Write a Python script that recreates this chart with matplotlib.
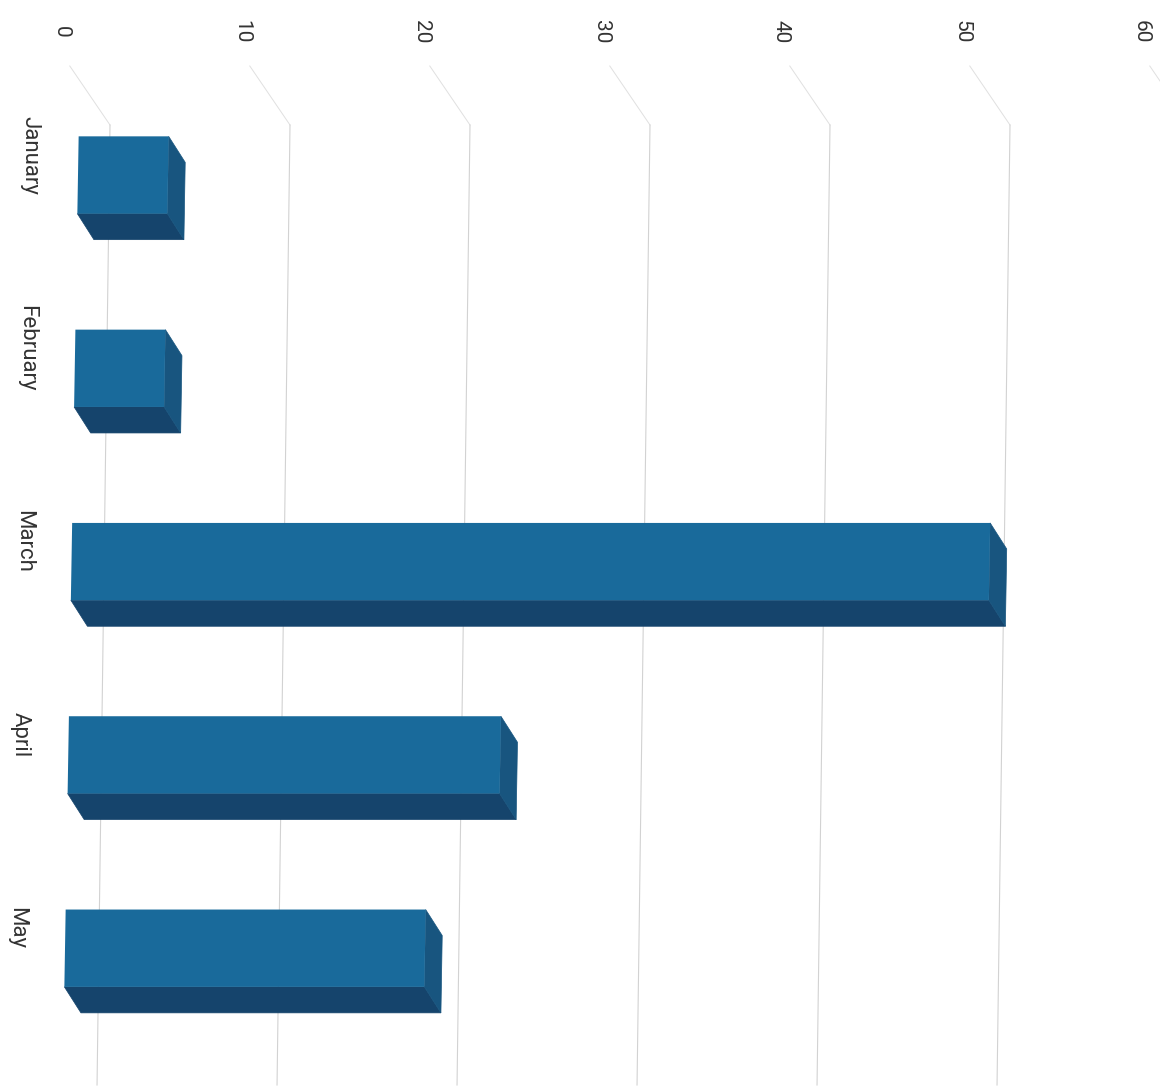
import numpy as np
import matplotlib.pyplot as plt
from matplotlib.patches import Polygon
from matplotlib.transforms import Affine2D

# donnees du graphique
mois = ["January", "February", "March", "April", "May"]
valeurs = [5, 5, 51, 24, 20]
graduations = [0, 10, 20, 30, 40, 50, 60]

# couleurs des faces
face_avant = "#196a9b"
face_cote = "#18557f"
face_dessous = "#15446c"

# mise en page en pixels (image 1160x1090)
W, H = 1160, 1090
px_par_unite = 18.0
x0_px = 71.5        # position du zero sur la face avant (milieu de l'image)
y0_px = 175         # centre de la premiere barre
pas_px = 193.3      # distance entre deux barres
y_milieu = 562      # ligne de reference pour l'inclinaison du scan
k = 0.0168          # inclinaison des barres (le scan est un peu de travers)
k_grille = 0.0135   # inclinaison du quadrillage

fig = plt.figure(figsize=(W / 100, H / 100), dpi=100)
ax = fig.add_axes([0, 0, 1, 1])
ax.set_xlim(-x0_px / px_par_unite, (W - x0_px) / px_par_unite)
ax.set_ylim((H - y0_px) / pas_px, -y0_px / pas_px)
ax.axis("off")

# cisaillement en pixels : x' = x - k*(y_px - y_milieu)
incline = Affine2D([[1, k, -k * (H - y_milieu)], [0, 1, 0], [0, 0, 1]])
tr = ax.transData + incline
incline_g = Affine2D([[1, k_grille, -k_grille * (H - y_milieu)], [0, 1, 0], [0, 0, 1]])
tr_g = ax.transData + incline_g

# profondeur 3D en unites de donnees
dx = 17 / px_par_unite
dy = 26 / pas_px
epaisseur = 0.4

# quadrillage du fond
decal_fond = 32.6 / px_par_unite
y_haut = (66 - y0_px) / pas_px
y_coude = (125 - y0_px) / pas_px
y_bas = (1085 - y0_px) / pas_px
for g in graduations:
    xg = g + decal_fond
    ax.plot([xg - 41 / px_par_unite, xg], [y_haut, y_coude], color="#e0e0e0", lw=0.7, zorder=1, transform=tr_g)
    ax.plot([xg, xg], [y_coude, y_bas], color="#d2d2d2", lw=0.8, zorder=1, transform=tr_g)

# barres avec effet 3D
pos = np.arange(len(mois))
ax.barh(pos, valeurs, height=epaisseur, left=0, color=face_avant, zorder=4, transform=tr)
for p, v in zip(pos, valeurs):
    haut = p - epaisseur / 2
    bas = p + epaisseur / 2
    dessous = Polygon([(0, bas), (v, bas), (v + dx, bas + dy), (dx, bas + dy)],
                      closed=True, facecolor=face_dessous, edgecolor=face_dessous, lw=0.5, zorder=3, transform=tr)
    cote = Polygon([(v, haut), (v + dx, haut + dy), (v + dx, bas + dy), (v, bas)],
                   closed=True, facecolor=face_cote, edgecolor=face_cote, lw=0.5, zorder=3, transform=tr)
    ax.add_patch(dessous)
    ax.add_patch(cote)

# etiquettes des valeurs (en haut, tournees)
y_etiq = (32 - y0_px) / pas_px
for g in graduations:
    ax.text(g - 10 / px_par_unite, y_etiq, str(g), rotation=-90, ha="center", va="center",
            fontsize=15, color="#333333", family="Roboto")

# etiquettes des mois (a gauche, tournees)
x_mois = (23 - x0_px) / px_par_unite
for p, m in zip(pos, mois):
    ax.text(x_mois, p - 20 / pas_px, m, rotation=-90, ha="center", va="center",
            fontsize=16, color="#333333", family="Roboto", transform=tr)

fig.savefig("out.png", dpi=100)
